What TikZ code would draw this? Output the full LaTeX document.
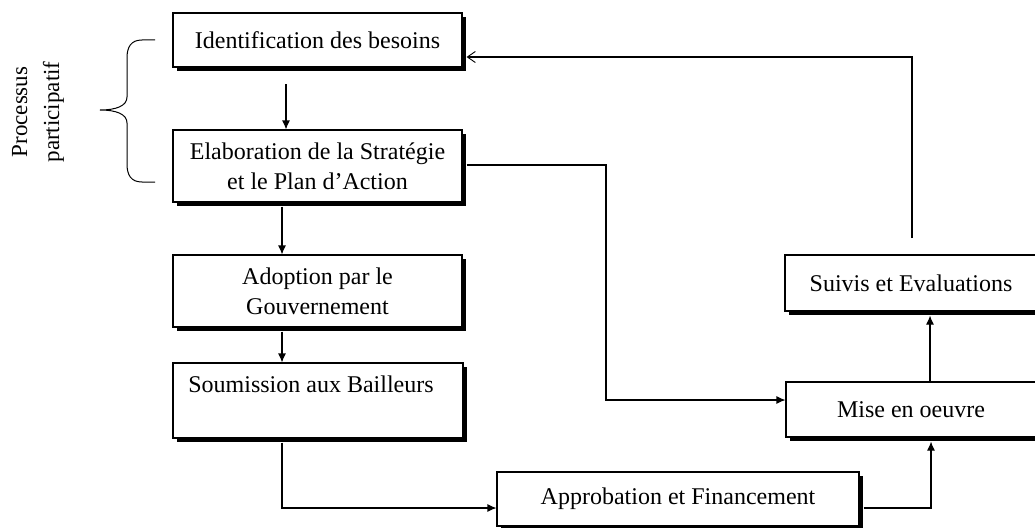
\documentclass[tikz,border=0pt]{standalone}
\usepackage{fontspec}
\setmainfont{Liberation Serif}
\usetikzlibrary{arrows.meta,shadows}
\begin{document}
\begin{tikzpicture}[x=1pt,y=-1pt,
  box/.style={draw, line width=1.1pt, fill=white, inner sep=2pt, align=center,
    font=\fontsize{24}{30}\selectfont,
    drop shadow={shadow xshift=4pt, shadow yshift=-4pt, opacity=1, fill=black}},
  lbl/.style={font=\fontsize{24}{30}\selectfont, inner sep=0pt},
  conn/.style={line width=1.1pt},
  arr/.style={conn, -{Latex[length=9pt,width=8pt]}},
  oarr/.style={conn, -{Straight Barb[length=8pt,width=11pt,line width=0.9pt]}}
]
\useasboundingbox (0,0) rectangle (1035,527);
% boxes
\node[box, minimum width=289pt, minimum height=54pt] (b1) at (317.5,40) {Identification des besoins};
\node[box, minimum width=289pt, minimum height=72pt] (b2) at (317.5,166) {Elaboration de la Strat\'egie\\et le Plan d'Action};
\node[box, minimum width=289pt, minimum height=72pt] (b3) at (317.5,291) {Adoption par le\\Gouvernement};
\node[box, minimum width=290pt, minimum height=75pt] (b4) at (318,400.5) {};
\node[lbl, anchor=base] (t4) at (311,392) {Soumission aux Bailleurs};
\node[box, minimum width=362pt, minimum height=54pt] (b5) at (678,499) {Approbation et Financement};
\node[box, minimum width=250pt, minimum height=55pt] (b6) at (911,409.5) {Mise en oeuvre};
\node[box, minimum width=252pt, minimum height=56pt] (b7) at (911,283) {Suivis et Evaluations};
% brace and label
\draw[line width=1pt] (155,40) -- (142,40) .. controls (131,40) and (127,47) .. (127,58) -- (127,97)
  .. controls (127,106) and (116,110) .. (100,110) .. controls (116,110) and (127,114) .. (127,123)
  -- (127,164) .. controls (127,175) and (131,182) .. (142,182) -- (155,182);
\node[lbl, rotate=90, align=center, font=\fontsize{23}{32}\selectfont] (pp) at (38,112) {Processus\\participatif};
% connectors
\coordinate (c1) at (286,84);
\draw[arr] (c1) -- (c1 |- b2.north);
\draw[arr] ([yshift=-4pt]b2.south -| 282,0) -- (282,0 |- b3.north);
\draw[arr] ([yshift=-4pt]b3.south -| 282,0) -- (282,0 |- b4.north);
\coordinate (k1) at (282,508);
\draw[arr] ([yshift=-4pt]b4.south -| k1) -- (k1) -- (k1 -| b5.west);
\coordinate (k2) at (931,508);
\draw[arr] ([xshift=4pt]b5.east |- k2) -- (k2) -- ([yshift=-4pt]b6.south -| k2);
\draw[arr] (930,0 |- b6.north) -- ([yshift=-4pt]b7.south -| 930,0);
\coordinate (k3) at (912,238);
\coordinate (k4) at (912,57);
\draw[oarr] (k3) -- (k4) -- ([xshift=4pt]b1.east |- k4);
\coordinate (k5) at (606,165);
\coordinate (k6) at (606,400);
\draw[arr] ([xshift=4pt]b2.east |- k5) -- (k5) -- (k6) -- (k6 -| b6.west);
\end{tikzpicture}
\end{document}
